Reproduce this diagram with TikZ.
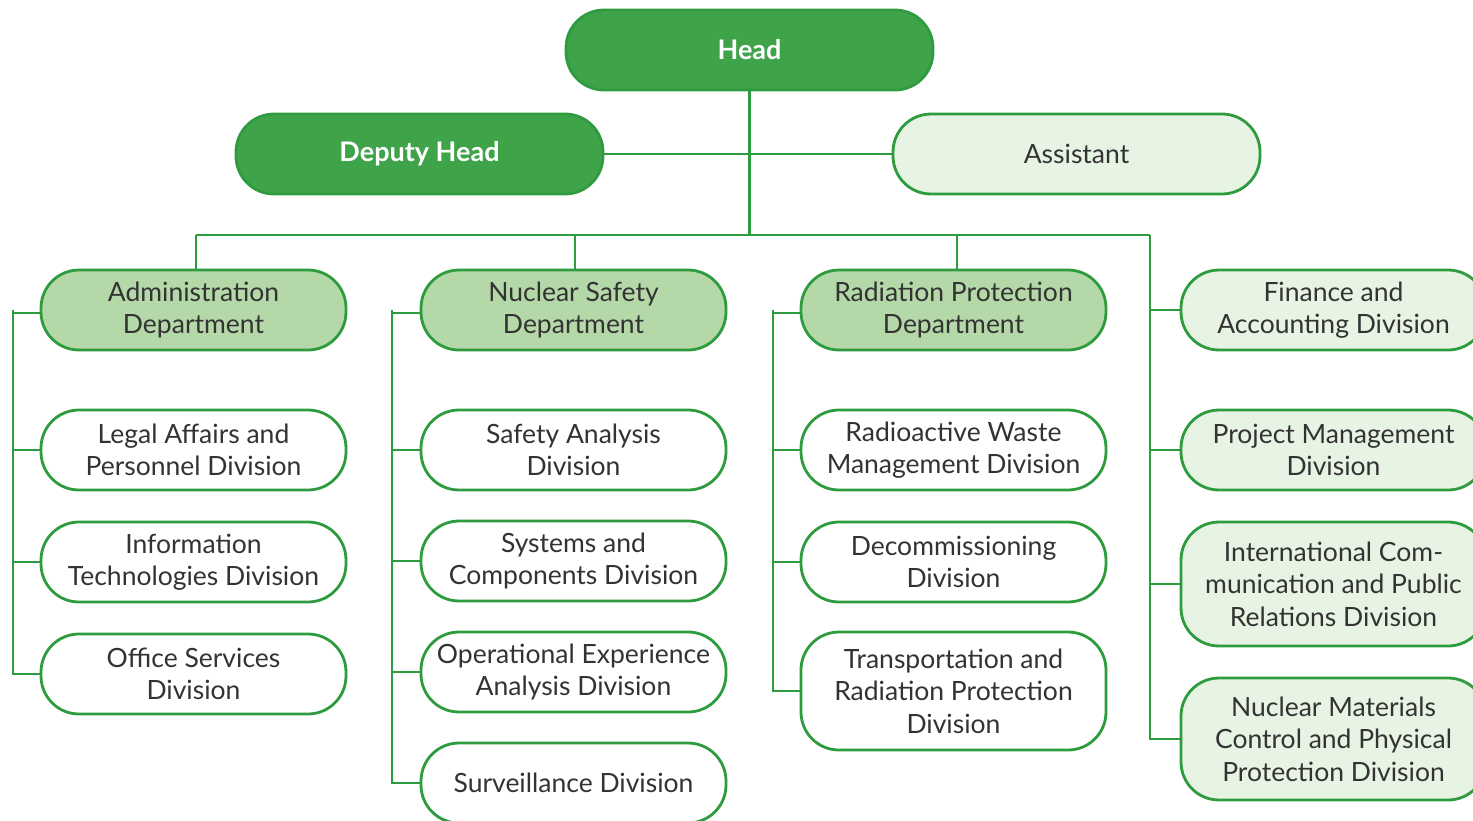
\documentclass[tikz,border=0pt]{standalone}
\usepackage{fontspec}
\setmainfont{Lato}
\definecolor{gline}{HTML}{2E9C3E}
\definecolor{dark}{HTML}{3FA34A}
\definecolor{mid}{HTML}{B4D8A8}
\definecolor{light}{HTML}{E7F3E3}
\definecolor{txt}{HTML}{333333}
\begin{document}
\begin{tikzpicture}[x=1pt,y=-1pt,
  box/.style={draw=gline, line width=2.8pt, rounded corners=38pt, minimum width=305pt, minimum height=80pt, align=center, text=txt, inner sep=0pt, font=\fontsize{26.5}{32.5}\selectfont},
  topbox/.style={box, minimum width=367pt, fill=dark, text=white, font=\fontsize{27}{32}\selectfont\bfseries},
  dept/.style={box, fill=mid},
  lite/.style={box, fill=light},
  div/.style={box, fill=white},
  conn/.style={gline, line width=2.8pt}]
\useasboundingbox (0,0) rectangle (1473,820);
\clip (0,0) rectangle (1473,820);
% top
\node[topbox] (head) at (749.5,50) {Head};
\node[topbox] (deputy) at (419.5,154) {Deputy Head};
\node[box, minimum width=367pt, fill=light] (assist) at (1076.5,154) {Assistant};
% departments
\node[dept] (adm) at (193.5,310) {Administration\\Department};
\node[dept] (nsd) at (573.5,310) {Nuclear Safety\\Department};
\node[dept] (rpd) at (953.5,310) {Radiation Protection\\Department};
\node[lite] (fin) at (1333.5,310) {Finance and\\Accounting Division};
% admin divisions
\node[div] (legal) at (193.5,450) {Legal Affairs and\\Personnel Division};
\node[div] (itd) at (193.5,562) {Information\\Technologies Division};
\node[div] (osd) at (193.5,674) {Office Services\\Division};
% nuclear safety divisions
\node[div] (sad) at (573.5,450) {Safety Analysis\\Division};
\node[div] (scd) at (573.5,561) {Systems and\\Components Division};
\node[div] (oea) at (573.5,672) {Operational Experience\\Analysis Division};
\node[div] (sur) at (573.5,783) {Surveillance Division};
% radiation divisions
\node[div] (rwm) at (953.5,450) {Radioactive Waste\\Management Division};
\node[div] (dec) at (953.5,562) {Decommissioning\\Division};
\node[div, minimum height=118pt] (trp) at (953.5,691) {Transportation and\\Radiation Protection\\Division};
% right column
\node[lite] (pmd) at (1333.5,450) {Project Management\\Division};
\node[lite, minimum height=124pt] (icp) at (1333.5,584) {International Com-\\munication and Public\\Relations Division};
\node[lite, minimum height=122pt] (nmc) at (1333.5,739) {Nuclear Materials\\Control and Physical\\Protection Division};
% coordinates
\coordinate (bus) at (749.5,235);
\coordinate (busL) at (196,235);
\coordinate (busR) at (1150,235);
% connectors
\draw[conn] (head.south) -- (bus);
\draw[conn] (deputy.east) -- (assist.west);
\draw[conn] (busL) -- (busR);
\draw[conn] (busL) -- (busL |- adm.north);
\draw[conn] (575,235) -- (575,270);
\draw[conn] (957,235) -- (957,270);
\draw[conn] (busR) |- (fin.west);
\draw[conn] (busR) |- (pmd.west);
\draw[conn] (busR) |- (icp.west);
\draw[conn] (busR) |- (nmc.west);
\foreach \d/\x/\l in {adm/13/{legal,itd,osd}, nsd/392/{sad,scd,oea,sur}, rpd/773/{rwm,dec,trp}}{
  \draw[conn] ([yshift=-3pt]\d.west) -| (\x,310);
  \foreach \c in \l { \draw[conn] (\x,310) |- (\c.west); }
}
\end{tikzpicture}
\end{document}
